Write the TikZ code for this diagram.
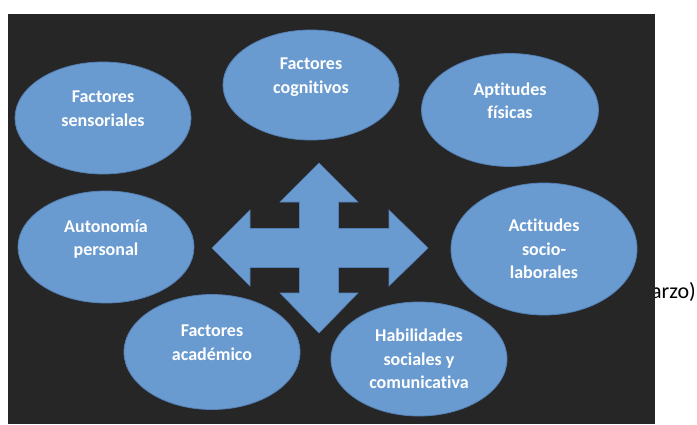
\documentclass[tikz,border=0pt]{standalone}
\usepackage{fontspec}
\setmainfont{Carlito}[Ligatures=NoCommon]
\usepackage{tikz}
\usepackage{xcolor}
\usetikzlibrary{shapes.geometric, positioning}
\definecolor{slideDark}{RGB}{38, 38, 38}
\definecolor{factorBlue}{RGB}{106, 155, 208}
\definecolor{factorEdge}{RGB}{84, 128, 180}

\begin{document}
\begin{tikzpicture}[x=1pt, y=-1pt,
    factor/.style={ellipse, fill=factorBlue, draw=factorEdge, line width=0.8pt,
        minimum width=176pt, minimum height=112pt, inner sep=0pt,
        text=white, align=center, font=\fontsize{18}{23.5}\selectfont\bfseries}]
                % Page and slide
                \useasboundingbox (0,0) rectangle (697,424);
                \fill[white] (0,0) rectangle (697,424);
                \node[anchor=base east, inner sep=0pt, font=\fontsize{22}{24}\selectfont] (caption) at (696,298) {marzo)};
                \fill[slideDark] (8,14) rectangle (655,424);

                % Cross of arrows
                \coordinate (hub) at (319,248);
                \fill[factorBlue, draw=factorEdge, line width=0.6pt, shift={(319,248)}]
                    (0,-85) -- (39,-46) -- (19.5,-46) -- (19.5,-19.5) -- (70,-19.5) -- (70,-38)
                    -- (109,0) -- (70,38) -- (70,19.5) -- (19.5,19.5) -- (19.5,45) -- (39,45)
                    -- (0,85) -- (-39,45) -- (-19.5,45) -- (-19.5,19.5) -- (-69,19.5) -- (-69,38)
                    -- (-107,0) -- (-69,-38) -- (-69,-19.5) -- (-19.5,-19.5) -- (-19.5,-46) -- (-39,-46) -- cycle;

                % Factors
                \node[factor] (sens) at (103,118) {Factores\\sensoriales\\[-12pt]\strut};
                \node[factor, minimum height=110pt] (cogn) at (311,85) {Factores\\cognitivos\\[-12pt]\strut};
                \node[factor, minimum width=177pt, minimum height=113pt] (apti) at (510,110) {Aptitudes\\físicas\\[-12pt]\strut};
                \node[factor] (auto) at (106,247) {Autonomía\\personal\\[-12pt]\strut};
                \node[factor, minimum width=186pt, minimum height=132pt] (acti) at (544,249) {Actitudes\\socio-\\laborales};
                \node[factor, minimum height=115pt] (acad) at (212,352) {Factores\\académico\\[-12pt]\strut};
                \node[factor, minimum height=114pt] (habi) at (419,359) {Habilidades\\sociales y\\comunicativa};
\end{tikzpicture}
\end{document}
